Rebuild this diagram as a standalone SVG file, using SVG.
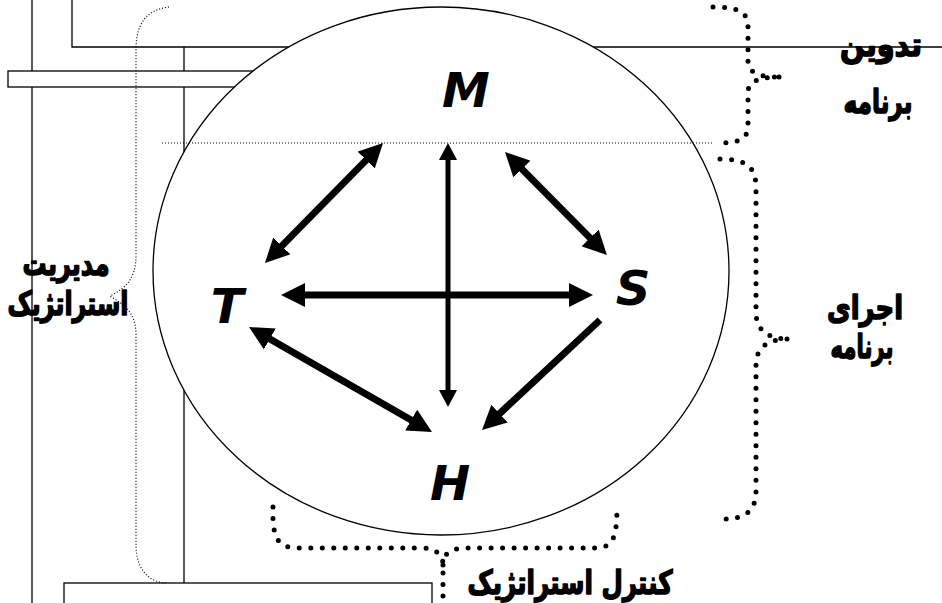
<svg xmlns="http://www.w3.org/2000/svg" width="942" height="603" viewBox="0 0 942 603">
<style>
.ln{fill:none;stroke:#000;stroke-width:1.3}
.box{fill:#fff;stroke:#000;stroke-width:1.3}
.thin{fill:none;stroke:#000;stroke-width:1.2;stroke-dasharray:1 2}
.big{fill:none;stroke:#000;stroke-width:5;stroke-linecap:round;stroke-dasharray:0 11.5}
.arr{stroke:#000;stroke-width:7;fill:none}
.arr2{stroke:#000;stroke-width:5;fill:none}
.lt{font-family:"DejaVu Sans",Verdana,sans-serif;font-weight:bold;font-style:italic;font-size:48px;text-anchor:middle;fill:#000}
.fa{font-family:"DejaVu Sans",sans-serif;font-weight:bold;font-size:33px;text-anchor:middle;fill:#000;stroke:#000;stroke-width:1.6;stroke-linejoin:round}
</style>
<defs>
<marker id="h" markerUnits="userSpaceOnUse" markerWidth="24" markerHeight="24" refX="8" refY="12" orient="auto-start-reverse" viewBox="0 0 24 24">
<path d="M0,0 L24,12 L0,24 z" fill="#000"/>
</marker>
<marker id="hs" markerUnits="userSpaceOnUse" markerWidth="17" markerHeight="18" refX="6" refY="9" orient="auto-start-reverse" viewBox="0 0 17 18">
<path d="M0,0 L17,9 L0,18 z" fill="#000"/>
</marker>
</defs>
<rect width="942" height="603" fill="#fff"/>
<g id="frame">
<line class="ln" x1="32" y1="0" x2="32" y2="603"/>
<path class="ln" d="M72,0 L72,47 L942,47"/>
<line class="ln" x1="184" y1="47" x2="184" y2="583"/>
<rect class="box" x="8" y="71" width="300" height="16"/>
<rect class="box" x="64" y="583" width="368" height="30"/>
<ellipse class="box" cx="441" cy="271" rx="288" ry="264"/>
<line class="thin" x1="162" y1="143" x2="713" y2="143"/>
</g>
<g id="connectors">
<line class="arr" x1="276.2" y1="251.6" x2="371.8" y2="154.4" marker-start="url(#h)" marker-end="url(#h)"/>
<line class="arr2" x1="448" y1="154" x2="448" y2="396" marker-start="url(#hs)" marker-end="url(#hs)"/>
<line class="arr" x1="516.3" y1="163.4" x2="595.7" y2="243.6" marker-start="url(#h)" marker-end="url(#h)"/>
<line class="arr" x1="297" y1="295" x2="577" y2="295" marker-start="url(#h)" marker-end="url(#h)"/>
<line class="arr" x1="262.9" y1="335" x2="418.1" y2="424" marker-start="url(#h)" marker-end="url(#h)"/>
<line class="arr" x1="600" y1="320" x2="493.7" y2="419.1" marker-end="url(#h)"/>
</g>
<g id="node-M"><text class="lt" x="466" y="107">M</text></g>
<g id="node-T"><text class="lt" x="227" y="323">T</text></g>
<g id="node-S"><text class="lt" x="633" y="305">S</text></g>
<g id="node-H"><text class="lt" x="450" y="500">H</text></g>
<g id="braces">
<path class="thin" d="M169,7 C145,10 136,25 136,50 L136,255 C136,280 125,288 110,296 C125,305 136,313 136,335 L136,545 C136,570 150,583 167,583"/>
<path class="big" d="M713,7 C740,7 748,12 748,28 L748,62 Q748,77 779,77 M779,77 Q748,77 748,92 L748,126 C748,138 740,143 720,143"/>
<path class="big" d="M720,159 C748,159 756,168 756,188 L756,312 Q756,338 787,339 M787,339 Q756,340 756,365 L756,490 C756,512 745,519 722,519"/>
<path class="big" d="M273,507 C272,540 278,548 300,548 L420,548 Q443,548 443,565 L443,603 M443,565 Q443,548 466,548 L595,548 C612,548 617,540 617,507"/>
</g>
<g id="labels">
<text class="fa" x="881" y="56" textLength="82" lengthAdjust="spacingAndGlyphs">تدوین</text>
<text class="fa" x="878" y="113" textLength="69" lengthAdjust="spacingAndGlyphs">برنامه</text>
<text class="fa" x="66" y="275" textLength="87" lengthAdjust="spacingAndGlyphs">مدیریت</text>
<text class="fa" x="68" y="315" textLength="121" lengthAdjust="spacingAndGlyphs">استراتژیک</text>
<text class="fa" x="865" y="319" textLength="76" lengthAdjust="spacingAndGlyphs">اجرای</text>
<text class="fa" x="862" y="358" textLength="63" lengthAdjust="spacingAndGlyphs">برنامه</text>
<text class="fa" x="570" y="594" textLength="205" lengthAdjust="spacingAndGlyphs">کنترل استراتژیک</text>
</g>
</svg>
